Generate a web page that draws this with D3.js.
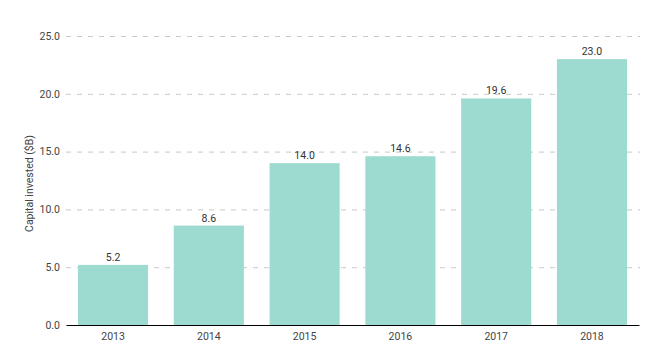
<!DOCTYPE html>
<html><head><meta charset="utf-8">
<script src="https://cdn.jsdelivr.net/npm/d3@7"></script>
<style>body{margin:0;background:#fff}text{font-family:Roboto,"Noto Sans",sans-serif}</style>
</head><body><svg id="c" width="645" height="354"></svg>
<script>
const years = ["2013","2014","2015","2016","2017","2018"];
const values = [5.2, 8.6, 14.0, 14.6, 19.6, 23.0];
const yTicks = [0, 5, 10, 15, 20, 25];
const yTitle = "Capital invested ($B)";

(function(){
const svg = d3.select("#c");
const mL = 66, mR = 639, mT = 36, mB = 325;
const x = d3.scaleBand().domain(years).range([mL, mR]).paddingInner(0.268).paddingOuter(0.125);
const y = d3.scaleLinear().domain([0, 25]).range([mB, mT]);

// grid
svg.append("g").selectAll("line").data(yTicks.filter(d => d > 0)).join("line")
  .attr("x1", mL).attr("x2", mR + 1)
  .attr("y1", d => y(d) + 0.5).attr("y2", d => y(d) + 0.5)
  .attr("stroke", "#c8c8c8").attr("stroke-width", 1).attr("stroke-dasharray", "5,6");

// y axis labels
const ya = svg.append("g").attr("transform", `translate(${mL},0)`)
  .call(d3.axisLeft(y).tickValues(yTicks).tickFormat(d3.format(".1f")).tickSize(0).tickPadding(6));
ya.select(".domain").remove();
ya.selectAll("text").attr("font-size", 10.5).attr("fill", "#444").attr("font-family", "Roboto");

// bars
svg.append("g").selectAll("rect").data(values).join("rect")
  .attr("x", (d, i) => x(years[i])).attr("width", x.bandwidth())
  .attr("y", d => y(d)).attr("height", d => y(0) - y(d))
  .attr("fill", "#9ddbd0");

// value labels
svg.append("g").selectAll("text").data(values).join("text")
  .attr("x", (d, i) => x(years[i]) + x.bandwidth() / 2).attr("y", d => y(d) - 4)
  .attr("text-anchor", "middle").attr("font-size", 10.5).attr("fill", "#333")
  .text(d => d.toFixed(1));

// x axis
const xa = svg.append("g").attr("transform", `translate(0,${mB})`)
  .call(d3.axisBottom(x).tickSize(0).tickPadding(8));
xa.select(".domain").attr("stroke", "#000").attr("stroke-width", 1.2);
xa.selectAll("text").attr("font-size", 10.5).attr("fill", "#444").attr("font-family", "Roboto");

// y title
svg.append("text").attr("transform", `translate(33,${(mT + mB) / 2 + 3}) rotate(-90)`)
  .attr("text-anchor", "middle").attr("font-size", 10.5).attr("fill", "#444").text(yTitle);
})();
</script></body></html>
